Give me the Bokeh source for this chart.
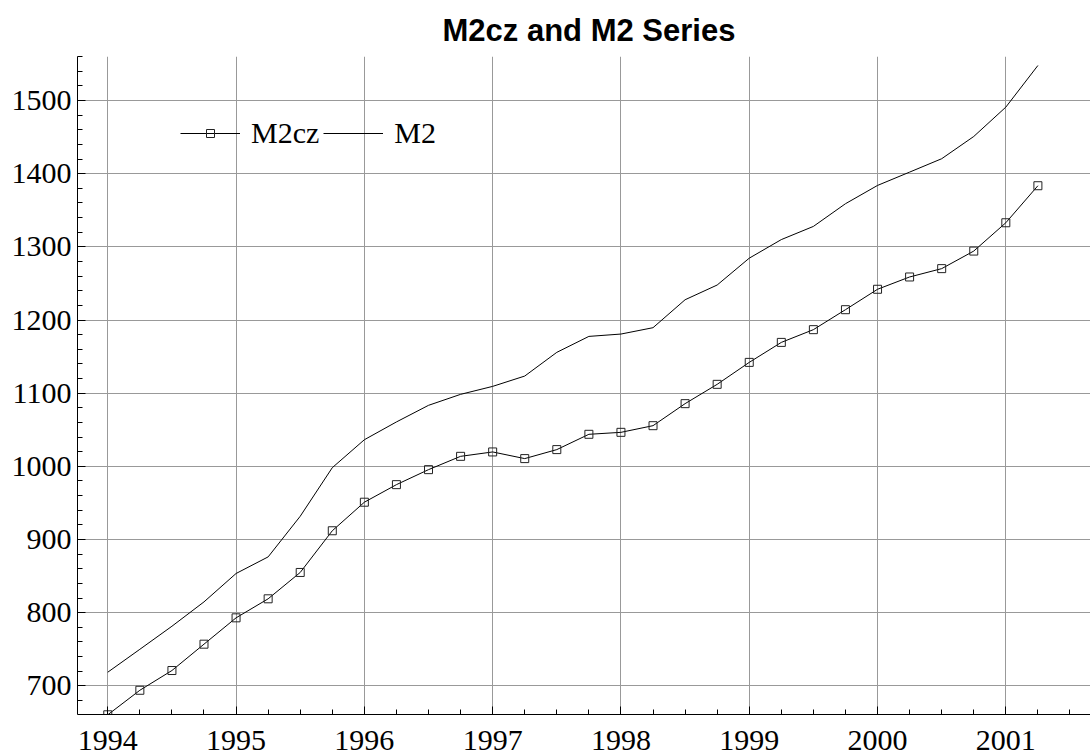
from bokeh.plotting import figure
from bokeh.models import Range1d, SingleIntervalTicker, Legend, LegendItem, ColumnDataSource
from bokeh.embed import file_html
from bokeh.resources import INLINE

# quarterly dates (year + quarter fraction)
dates = [1994.00, 1994.25, 1994.50, 1994.75, 1995.00, 1995.25, 1995.50, 1995.75,
         1996.00, 1996.25, 1996.50, 1996.75, 1997.00, 1997.25, 1997.50, 1997.75,
         1998.00, 1998.25, 1998.50, 1998.75, 1999.00, 1999.25, 1999.50, 1999.75,
         2000.00, 2000.25, 2000.50, 2000.75, 2001.00, 2001.25]
m2cz = [660.5, 694, 721, 757, 793, 819, 855, 912,
        951, 975, 995.5, 1013.7, 1019.7, 1010.6, 1022.9, 1043.8,
        1046.5, 1055.6, 1085.7, 1112.1, 1142.1, 1169.4, 1186.8, 1214.1,
        1242, 1258.8, 1270.2, 1294.2, 1332.9, 1383.5]
m2 = [718.7, 750, 781.5, 814.8, 853.6, 876.3, 931.8, 998.2,
      1036.4, 1060.7, 1083.4, 1098.4, 1109.3, 1123.4, 1155.8, 1177.6,
      1180.8, 1189.5, 1227.7, 1247.8, 1284.5, 1309.9, 1327.9, 1358.9,
      1383.9, 1402.1, 1420.4, 1450.8, 1490.9, 1547.8]
title_text = "M2cz and M2 Series"
series_names = ["M2cz", "M2"]

src = ColumnDataSource(dict(x=dates, m2cz=m2cz, m2=m2))

p = figure(width=1090, height=766, output_backend="svg", toolbar_location=None,
           x_range=Range1d(1993.764, 2001.66), y_range=Range1d(660.9, 1560.1),
           min_border_left=77, min_border_right=0, min_border_top=56, min_border_bottom=52,
           title=title_text)
p.outline_line_color = None
p.background_fill_color = "white"
p.border_fill_color = "white"

p.title.text_font = "Liberation Sans"
p.title.text_font_style = "bold"
p.title.text_font_size = "31px"
p.title.align = "left"
p.title.offset = 365
p.title.vertical_align = "top"
p.title.standoff = 13
p.title.text_color = "black"

for ax in (p.xaxis[0], p.yaxis[0]):
    ax.axis_line_color = "black"
    ax.axis_line_width = 1
    ax.major_tick_in = 8
    ax.major_tick_out = 0
    ax.minor_tick_in = 5
    ax.minor_tick_out = 0
    ax.major_tick_line_color = "black"
    ax.minor_tick_line_color = "black"
    ax.major_label_text_font = "Liberation Serif"
    ax.major_label_text_font_size = "30px"
    ax.major_label_text_color = "black"

p.xaxis[0].ticker = SingleIntervalTicker(interval=1, num_minor_ticks=4)
p.yaxis[0].ticker = SingleIntervalTicker(interval=100, num_minor_ticks=5)
p.xaxis[0].major_label_standoff = 16
p.yaxis[0].major_label_standoff = 6

p.xgrid[0].ticker = p.xaxis[0].ticker
p.ygrid[0].ticker = p.yaxis[0].ticker
for g in (p.xgrid[0], p.ygrid[0]):
    g.grid_line_color = "#999999"
    g.grid_line_width = 1

r_m2cz_line = p.line("x", "m2cz", source=src, line_color="black", line_width=1)
r_m2cz_pts = p.scatter("x", "m2cz", source=src, marker="square", size=8,
                       line_color="#222222", line_width=1, fill_alpha=0)
r_m2_line = p.line("x", "m2", source=src, line_color="black", line_width=1)

legend = Legend(items=[LegendItem(label=series_names[0], renderers=[r_m2cz_line, r_m2cz_pts]),
                       LegendItem(label=series_names[1], renderers=[r_m2_line])],
                orientation="horizontal", location=(103, 564),
                border_line_color=None, background_fill_alpha=0,
                label_text_font="Liberation Serif", label_text_font_size="30px",
                label_text_color="black",
                glyph_width=60, glyph_height=20, label_standoff=11, spacing=4,
                padding=0, margin=0)
p.add_layout(legend)

open("out.html", "w").write(file_html(p, INLINE))
